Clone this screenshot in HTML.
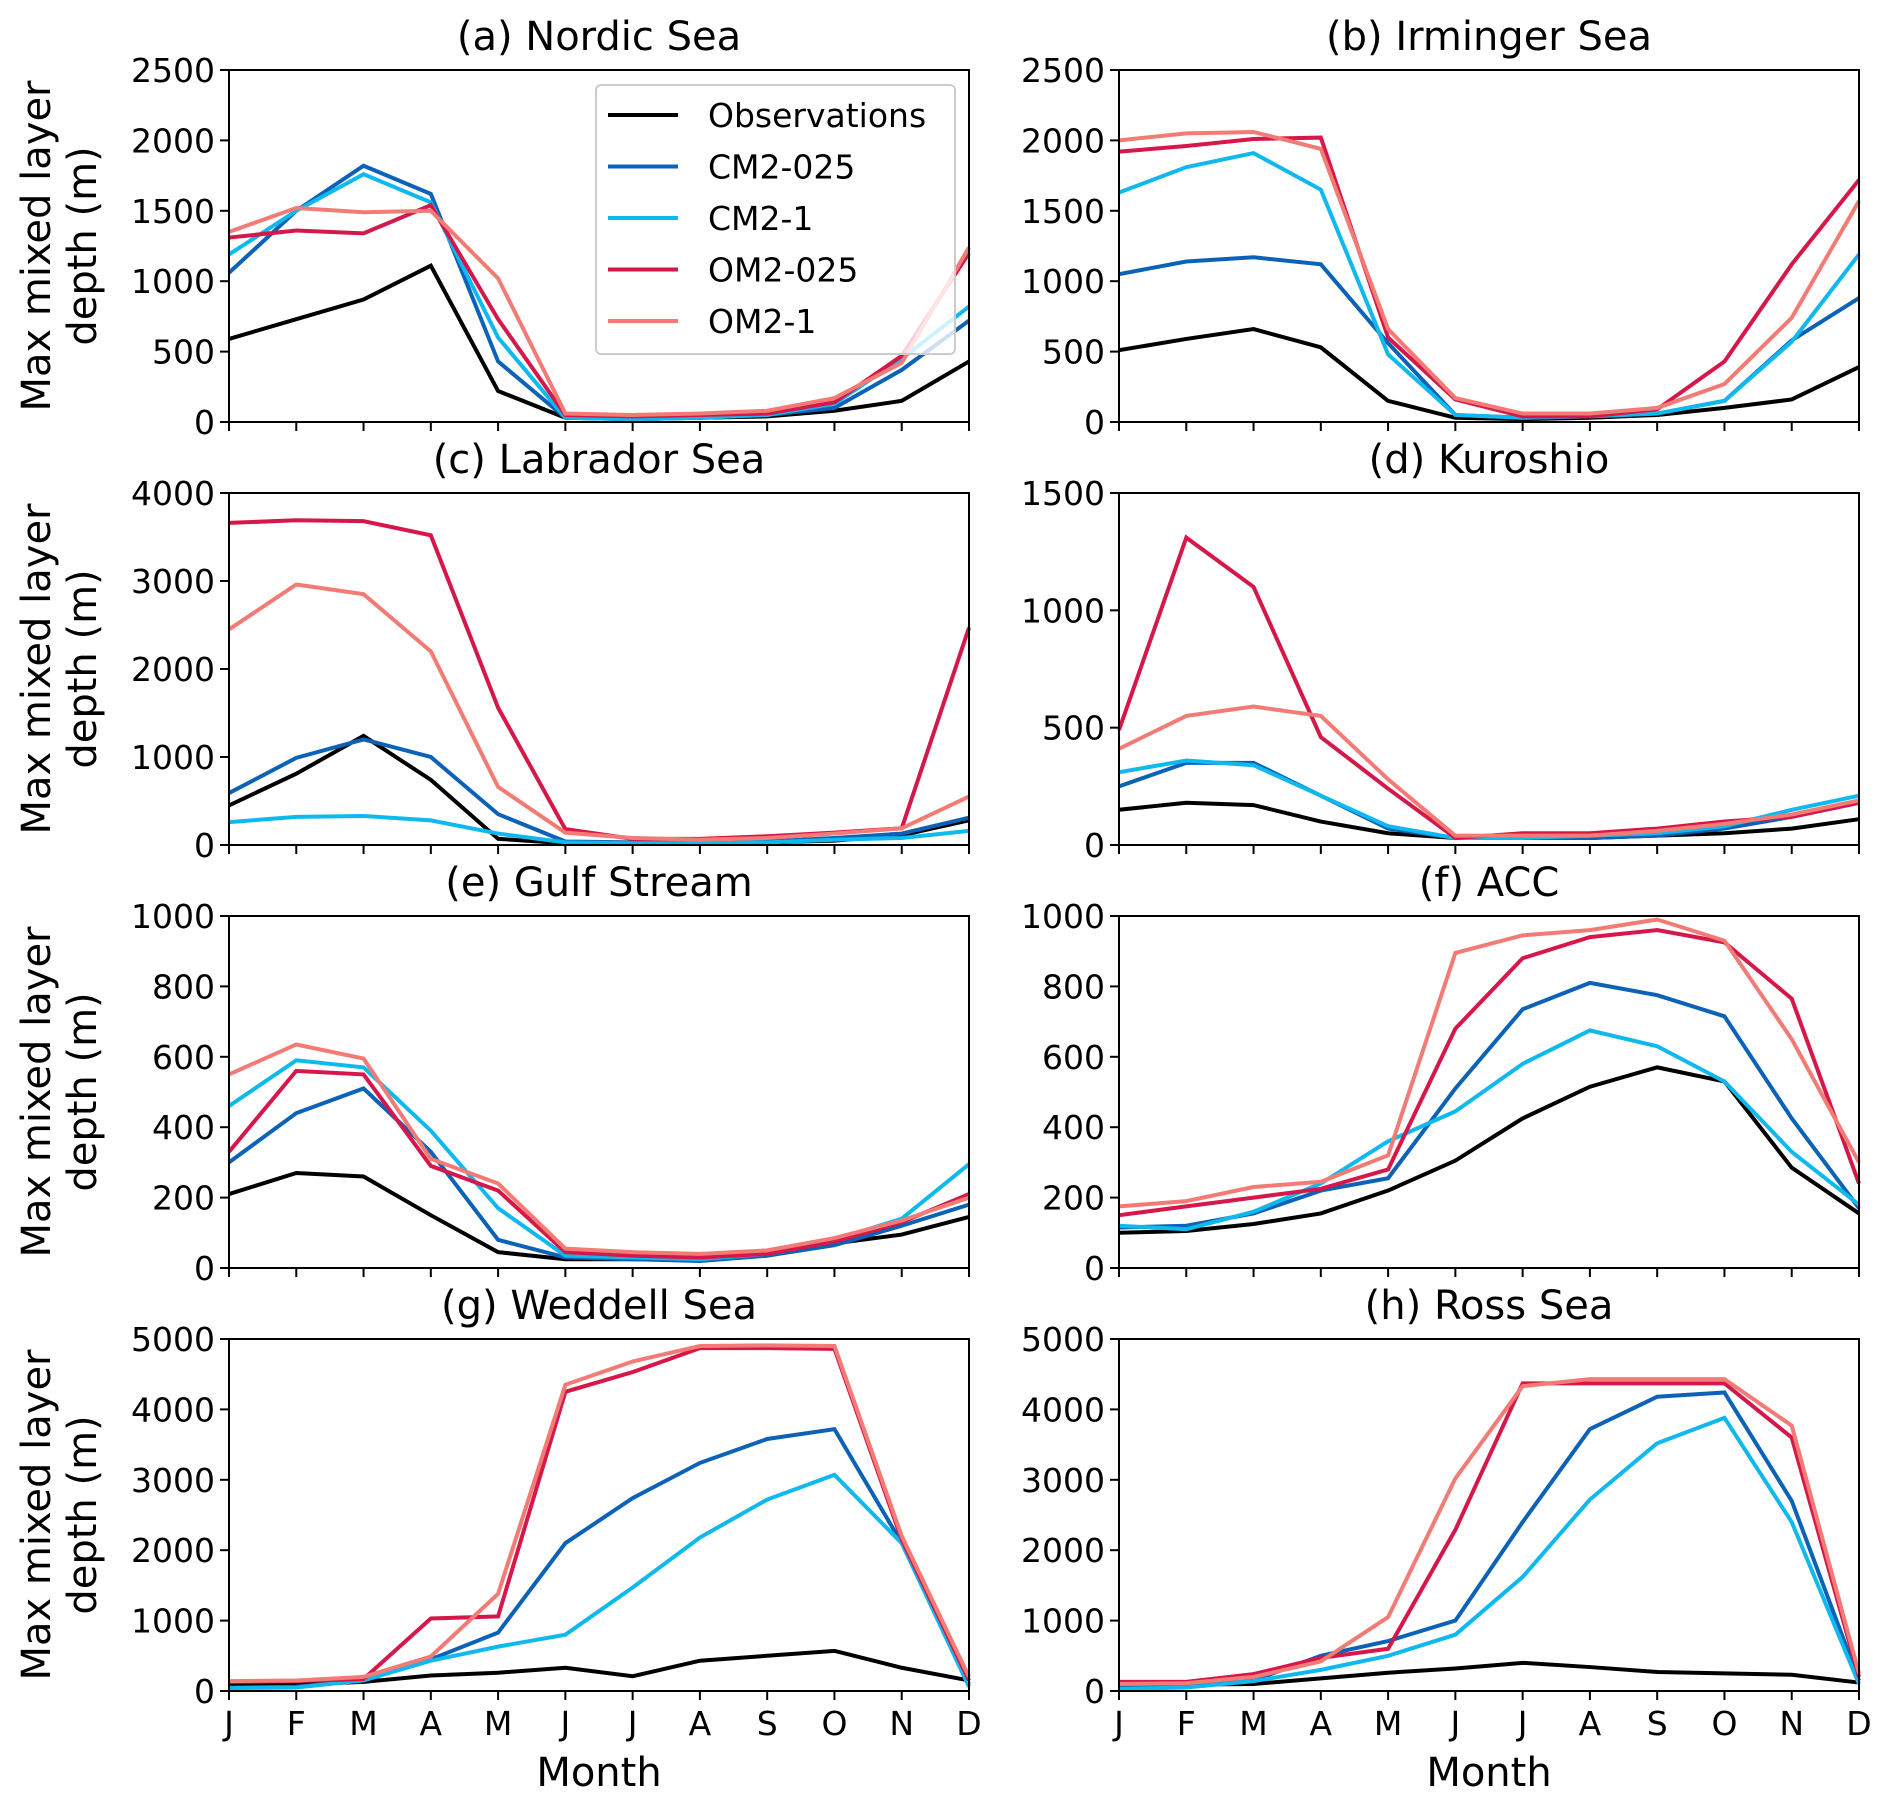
<!DOCTYPE html>
<html><head><meta charset="utf-8"><style>
body{margin:0;background:#fff}
svg{display:block;font-family:"DejaVu Sans","Liberation Sans",sans-serif}
</style></head><body>
<svg id="fig" width="1892" height="1809" viewBox="0 0 1892 1809"></svg>
<script>
const months=["J","F","M","A","M","J","J","A","S","O","N","D"];
const seriesNames=["Observations","CM2-025","CM2-1","OM2-025","OM2-1"];
const seriesColors=["#000000","#0b62b6","#0fb9ee","#d6174a","#f27c75"];
const panelTitles=["(a) Nordic Sea","(b) Irminger Sea","(c) Labrador Sea","(d) Kuroshio","(e) Gulf Stream","(f) ACC","(g) Weddell Sea","(h) Ross Sea"];
const panelYMax=[2500,2500,4000,1500,1000,1000,5000,5000];
const panelYStep=[500,500,1000,500,200,200,1000,1000];
const nordic=[[590,730,870,1110,220,30,20,30,40,80,150,430],[1060,1500,1820,1620,430,30,20,30,50,100,370,720],[1190,1500,1760,1560,600,30,20,30,50,130,450,820],[1310,1360,1340,1540,730,50,40,50,60,140,470,1200],[1350,1520,1490,1500,1020,60,50,60,80,170,420,1240]];
const irminger=[[510,590,660,530,150,30,20,30,50,100,160,390],[1050,1140,1170,1120,560,50,30,40,60,150,580,880],[1630,1810,1910,1650,480,50,30,40,60,150,570,1190],[1920,1960,2010,2020,600,160,40,40,90,430,1120,1720],[2000,2050,2060,1940,660,170,60,60,100,270,740,1570]];
const labrador=[[450,810,1240,740,70,20,20,20,30,50,110,280],[590,990,1200,1000,350,40,30,30,40,80,130,310],[260,320,330,280,130,30,20,20,30,60,80,160],[3660,3690,3680,3520,1560,180,70,70,100,140,190,2470],[2450,2960,2850,2200,660,140,80,60,80,130,190,550]];
const kuroshio=[[150,180,170,100,50,30,30,30,40,50,70,110],[250,350,350,210,70,30,30,30,40,70,120,180],[310,360,340,210,80,30,30,40,50,80,150,210],[490,1310,1100,460,240,30,50,50,70,100,120,180],[410,550,590,550,280,40,40,40,60,90,130,190]];
const gulf=[[210,270,260,150,45,25,25,25,35,70,95,145],[300,440,510,330,80,30,25,20,35,65,120,180],[460,590,570,390,170,35,30,25,40,80,140,295],[330,560,550,290,220,45,35,30,40,75,130,210],[550,635,595,310,240,55,45,40,50,85,135,200]];
const acc=[[100,105,125,155,220,305,425,515,570,530,285,155],[115,120,155,220,255,510,735,810,775,715,425,170],[120,110,160,240,360,445,580,675,630,530,330,180],[150,175,200,225,280,680,880,940,960,925,765,240],[175,190,230,245,320,895,945,960,990,930,650,300]];
const weddell=[[80,90,130,220,260,330,210,430,500,570,330,150],[50,60,150,450,830,2100,2740,3240,3580,3720,2100,100],[40,50,150,430,630,800,1470,2180,2720,3070,2100,60],[130,140,170,1030,1060,4250,4530,4870,4870,4860,2150,150],[140,150,200,490,1380,4350,4680,4900,4910,4900,2200,200]];
const ross=[[80,90,100,180,260,320,400,340,270,250,230,120],[60,70,150,500,710,1000,2400,3720,4180,4240,2700,150],[30,50,140,300,500,800,1620,2720,3520,3880,2400,100],[130,130,240,470,600,2290,4370,4370,4370,4370,3600,200],[100,110,200,420,1050,3020,4330,4430,4430,4430,3770,250]];
const panelData=[nordic,irminger,labrador,kuroshio,gulf,acc,weddell,ross];

const NS="http://www.w3.org/2000/svg";
const svg=document.getElementById("fig");
function mk(tag,attrs,parent,txt){const e=document.createElementNS(NS,tag);for(const k in attrs)e.setAttribute(k,attrs[k]);if(txt!==undefined)e.textContent=txt;(parent||svg).appendChild(e);return e;}
const colL=[229,1119],W=740,rowT=[70,493,916,1339],H=352;
panelData.forEach((data,p)=>{
  const c=p%2,r=Math.floor(p/2);
  const x0=colL[c],y0=rowT[r],ym=panelYMax[p];
  const xs=i=>x0+i*W/11;
  const ys=v=>y0+H-v/ym*H;
  const g=mk("g",{});
  
  
  const t=mk("text",{x:x0+W/2,y:y0-20,"text-anchor":"middle","font-size":40},g,panelTitles[p]);
  
  
  for(let v=0;v<=ym;v+=panelYStep[p]){
    mk("line",{x1:x0-9,x2:x0,y1:ys(v),y2:ys(v),stroke:"#000","stroke-width":2},g);
    const tl=mk("text",{x:x0-14,y:ys(v)+12,"text-anchor":"end","font-size":33},g,String(v));
    
    
  }
  months.forEach((m,i)=>{
    mk("line",{x1:xs(i),x2:xs(i),y1:y0+H,y2:y0+H+9,stroke:"#000","stroke-width":2},g);
    if(r===3){const ml=mk("text",{x:xs(i),y:y0+H+44,"text-anchor":"middle","font-size":33},g,m);
      
      }
  });
  if(c===0){
    const cy=y0+H/2;
    const yl=mk("text",{"text-anchor":"middle","font-size":40,transform:`translate(50,${cy}) rotate(-90)`},g);
    
    
    mk("tspan",{x:0,y:0},yl,"Max mixed layer");
    mk("tspan",{x:0,y:46},yl,"depth (m)");
  }
  if(r===3){const xl=mk("text",{x:x0+W/2,y:y0+H+95,"text-anchor":"middle","font-size":40},g,"Month");
    
    }
  data.forEach((s,k)=>{
    const pl=mk("polyline",{points:s.map((v,i)=>xs(i)+","+ys(v)).join(" "),fill:"none",stroke:seriesColors[k],"stroke-width":4,"stroke-linejoin":"miter"},g);
    
    
  });
  mk("rect",{x:x0,y:y0,width:W,height:H,fill:"none",stroke:"#000","stroke-width":2},g);
});
const lg=mk("g",{});


mk("rect",{x:596,y:85,width:359,height:269,rx:5,fill:"#fff","fill-opacity":0.8,stroke:"#ccc","stroke-width":2},lg);
seriesNames.forEach((n,k)=>{
  const y=115+k*51.5;
  mk("line",{x1:608,x2:678,y1:y,y2:y,stroke:seriesColors[k],"stroke-width":4},lg);
  const lt=mk("text",{x:708,y:y+12,"font-size":33},lg,n);
  
  
});
</script>
</body></html>
